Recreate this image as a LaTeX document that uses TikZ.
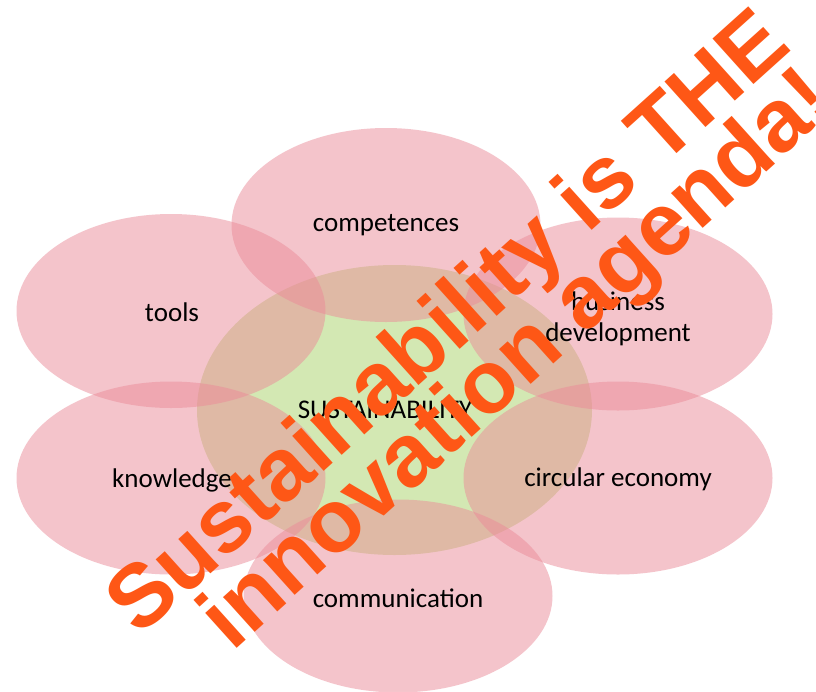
\documentclass[tikz,border=0pt]{standalone}
\usepackage{fontspec}
\setmainfont{Carlito}
\newfontfamily\wmfont{Liberation Sans}
\usetikzlibrary{shapes.geometric}
\definecolor{petalc}{RGB}{235,139,153}
\definecolor{corec}{RGB}{211,232,179}
\definecolor{wmc}{RGB}{254,87,22}
\begin{document}
\begin{tikzpicture}[x=1pt,y=-1pt,
  petal/.style={ellipse, fill=petalc, fill opacity=0.5, draw=none, inner sep=0pt},
  core/.style={ellipse, fill=corec, draw=none, inner sep=0pt},
  lbl/.style={font=\fontsize{27}{31}\selectfont, text=black, inner sep=0pt, align=center},
  wm/.style={font=\wmfont\bfseries\fontsize{89}{100}\selectfont, text=wmc, inner sep=0pt, anchor=base west, rotate=42}]
\useasboundingbox (0,0) rectangle (816,691);
\fill[white] (0,0) rectangle (816,691);
\node[core, minimum width=395pt, minimum height=290pt] (core) at (394.5,410) {};
\node[petal, minimum width=309pt, minimum height=194pt] (comp) at (386,225) {};
\node[petal, minimum width=309pt, minimum height=194pt] (tools) at (171,311) {};
\node[petal, minimum width=309pt, minimum height=193pt] (bus) at (618,314) {};
\node[petal, minimum width=309pt, minimum height=193pt] (know) at (171,478) {};
\node[petal, minimum width=309pt, minimum height=193pt] (circ) at (618,478) {};
\node[petal, minimum width=309pt, minimum height=193pt] (comm) at (398,596) {};
\node[lbl] (tcomp) at (386,225) {competences};
\node[lbl] (ttools) at (172,312) {tools};
\node[lbl] (tbus) at (618,319) {business\\development};
\node[lbl] (tcore) at (385,410) {SUSTAINABILITY};
\node[lbl] (tknow) at (172,480) {knowledge};
\node[lbl] (tcirc) at (618,479) {circular economy};
\node[lbl] (tcomm) at (398,598) {communication};
\node[wm] (wm1) at (139,638) {Sustainability is THE};
\node[wm] (wm2) at (232,653) {innovation agenda!};
\end{tikzpicture}
\end{document}
